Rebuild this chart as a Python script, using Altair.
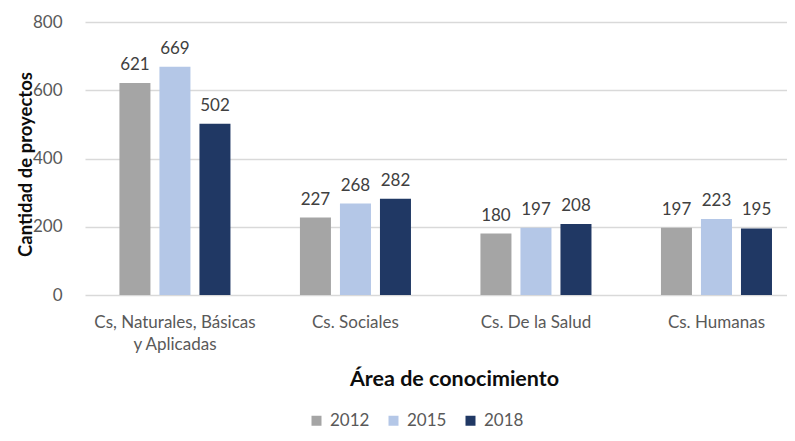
import altair as alt
import pandas as pd

categories = ["Cs, Naturales, Básicas y Aplicadas", "Cs. Sociales", "Cs. De la Salud", "Cs. Humanas"]
years = ["2012", "2015", "2018"]
v2012 = [621, 227, 180, 197]
v2015 = [669, 268, 197, 223]
v2018 = [502, 282, 208, 195]
colors = ["#a5a5a5", "#b4c7e7", "#203864"]
y_ticks = [0, 200, 400, 600, 800]

rows = []
for yr, vals in zip(years, [v2012, v2015, v2018]):
    for c, v in zip(categories, vals):
        rows.append({"area": c, "year": yr, "value": v})
df = pd.DataFrame(rows)

FONT = "Lato"
FS = 17

x = alt.X(
    "area:N",
    sort=categories,
    scale=alt.Scale(paddingInner=0.335, paddingOuter=0.112, align=0.74),
    axis=alt.Axis(
        title="Área de conocimiento",
        labelAngle=0,
        labelExpr="datum.value == 'Cs, Naturales, Básicas y Aplicadas' ? ['Cs, Naturales, Básicas', 'y Aplicadas'] : datum.label",
        labelLineHeight=22,
        labelPadding=19,
        labelFontSize=FS,
        labelColor="#595959",
        labelFont=FONT,
        ticks=False,
        tickSize=0,
        domain=False,
        titleFont=FONT,
        titleFontSize=21.5,
        titleFontWeight="bold",
        titleColor="#0d0d0d",
        titleX=369,
        titleY=84,
        titleBaseline="middle",
        titleAnchor="middle",
        titleAlign="center",
    ),
)
xo = alt.XOffset(
    "year:N",
    sort=years,
    scale=alt.Scale(paddingInner=0.225, paddingOuter=0.1125),
)
y = alt.Y(
    "value:Q",
    scale=alt.Scale(domain=[0, 800], nice=False),
    axis=alt.Axis(
        title="Cantidad de proyectos",
        values=y_ticks,
        grid=True,
        gridColor="#d9d9d9",
        gridWidth=1.3,
        domain=False,
        ticks=False,
        tickSize=0,
        labelPadding=23,
        labelFontSize=FS,
        labelColor="#595959",
        labelFont=FONT,
        titleFont=FONT,
        titleFontSize=18.5,
        titleFontWeight="bold",
        titleColor="#0d0d0d",
        titleX=-60,
        titleY=142,
        titleAngle=270,
        titleBaseline="middle",
        titleAlign="center",
    ),
)
color = alt.Color(
    "year:N",
    sort=years,
    scale=alt.Scale(domain=years, range=colors),
    legend=alt.Legend(
        title=None,
        orient="none",
        legendX=223,
        legendY=390,
        direction="horizontal",
        symbolType="square",
        symbolSize=100,
        symbolStrokeWidth=0,
        labelFontSize=FS,
        labelFont=FONT,
        labelColor="#595959",
        labelOffset=5,
        columnPadding=15,
    ),
)

bars = alt.Chart(df).mark_bar().encode(x=x, xOffset=xo, y=y, color=color)
labels = alt.Chart(df).mark_text(
    font=FONT, fontSize=FS, color="#404040", baseline="alphabetic", dy=-13, align="center"
).encode(x=x, xOffset=xo, y=y, text="value:Q")

chart = (
    alt.layer(bars, labels)
    .properties(
        width=702,
        height=273,
        autosize=alt.AutoSizeParams(type="none"),
        padding={"left": 77, "top": 14, "right": 0, "bottom": 138},
    )
    .configure_view(stroke=None)
)

chart.save("out.html", embed_options={"renderer": "svg", "actions": False})
